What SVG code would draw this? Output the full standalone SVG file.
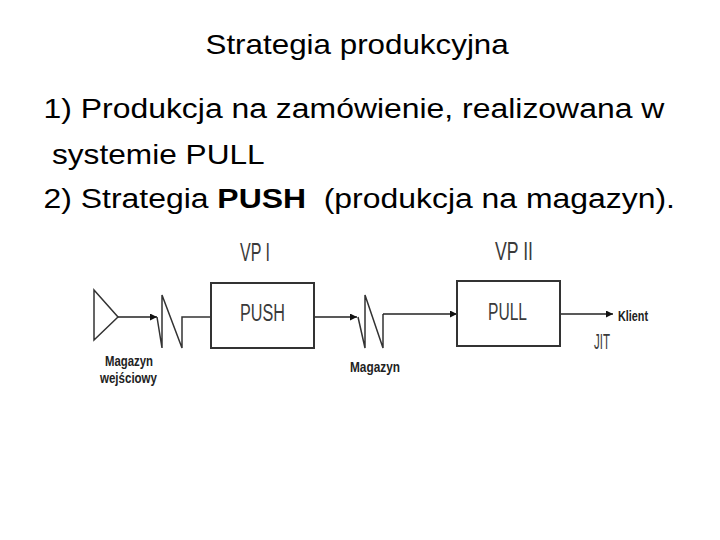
<svg xmlns="http://www.w3.org/2000/svg" width="720" height="540" viewBox="0 0 720 540">
  <defs>
    <marker id="arr" viewBox="0 0 10 10" refX="10" refY="5" markerWidth="8" markerHeight="7" markerUnits="userSpaceOnUse" orient="auto">
      <path d="M0,0 L10,5 L0,10 Z" fill="#111"/>
    </marker>
    <style>
      .body { font-family: "Liberation Sans", Arial, sans-serif; font-size: 28px; fill: #000; }
      .lab { font-family: "Liberation Sans", Arial, sans-serif; fill: #3a3a3a; }
      .blab { font-family: "Liberation Sans", Arial, sans-serif; font-weight: bold; font-size: 14px; fill: #222; }
      .box { fill: #fff; stroke: #333; stroke-width: 2; }
      .shape { fill: none; stroke: #333; stroke-width: 1.5; stroke-linejoin: miter; }
      .conn { fill: none; stroke: #222; stroke-width: 1.6; }
    </style>
  </defs>
  <rect width="720" height="540" fill="#fff"/>

  <g id="texts">
    <text class="body" transform="translate(205.5,54) scale(1.12,1)">Strategia produkcyjna</text>
    <text class="body" transform="translate(43.5,118) scale(1.14,1)">1) Produkcja na zamówienie, realizowana w</text>
    <text class="body" transform="translate(52,164) scale(1.13,1)">systemie PULL</text>
    <text class="body" xml:space="preserve" style="white-space:pre" transform="translate(43.5,208) scale(1.14,1)">2) Strategia <tspan font-weight="bold">PUSH</tspan>  (produkcja na magazyn).</text>
  </g>

  <g id="connectors">
    <line class="conn" x1="118" y1="317" x2="157" y2="317" marker-end="url(#arr)"/>
    <polyline class="shape" points="157,317 162,348 162,295 182,348 182,317 211,317"/>
    <line class="conn" x1="314" y1="317" x2="357" y2="317" marker-end="url(#arr)"/>
    <polyline class="shape" points="358,317 365,348 365,295 383,348 383,314"/>
    <line class="conn" x1="383" y1="314" x2="457" y2="314" marker-end="url(#arr)"/>
    <line class="conn" x1="560" y1="314" x2="613" y2="314" marker-end="url(#arr)"/>
  </g>

  <g id="magazyn-wejsciowy">
    <polygon class="shape" points="94,290 118,317 94,340"/>
    <text class="blab" x="105" y="366" textLength="48" lengthAdjust="spacingAndGlyphs">Magazyn</text>
    <text class="blab" x="100" y="383" textLength="57" lengthAdjust="spacingAndGlyphs">wejściowy</text>
  </g>

  <g id="vp1-push">
    <text class="lab" x="240" y="261" font-size="25" textLength="30" lengthAdjust="spacingAndGlyphs">VP I</text>
    <rect class="box" x="211" y="283" width="103" height="65"/>
    <text class="lab" x="240" y="321" font-size="23" textLength="45" lengthAdjust="spacingAndGlyphs" fill="#555">PUSH</text>
  </g>

  <g id="magazyn">
    <text class="blab" x="350" y="372" textLength="50" lengthAdjust="spacingAndGlyphs">Magazyn</text>
  </g>

  <g id="vp2-pull">
    <text class="lab" x="495" y="260" font-size="25" textLength="38" lengthAdjust="spacingAndGlyphs">VP II</text>
    <rect class="box" x="457" y="281" width="103" height="65"/>
    <text class="lab" x="488" y="320" font-size="24" textLength="39" lengthAdjust="spacingAndGlyphs" fill="#555">PULL</text>
  </g>

  <g id="klient">
    <text class="blab" x="618" y="321" textLength="30" lengthAdjust="spacingAndGlyphs">Klient</text>
    <text class="lab" x="594" y="349" font-size="22" textLength="16" lengthAdjust="spacingAndGlyphs">JIT</text>
  </g>
</svg>
